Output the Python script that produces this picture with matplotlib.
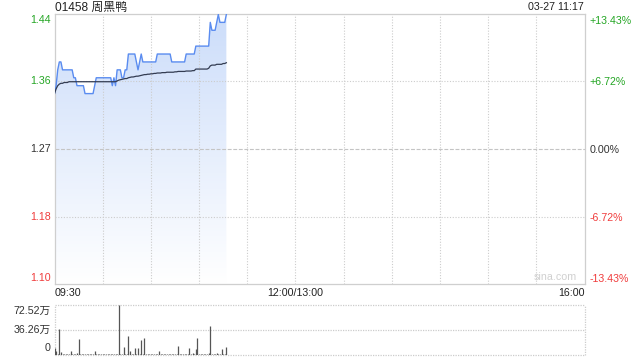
import numpy as np
import matplotlib
matplotlib.use("Agg")
import matplotlib.pyplot as plt
import matplotlib.transforms as mtransforms

plt.rcParams['font.family'] = ['Liberation Sans', 'Noto Sans CJK SC', 'DejaVu Sans']

# ---------------- data ----------------
title = "01458 周黑鸭"
stamp = "03-27 11:17"
prev_close = 1.27
pct_ticks = [13.43, 6.72, 0.0, -6.72, -13.43]
price_labels = ["1.44", "1.36", "1.27", "1.18", "1.10"]
pct_labels = ["+13.43%", "+6.72%", "0.00%", "-6.72%", "-13.43%"]
time_labels = ["09:30", "12:00/13:00", "16:00"]
time_label_pos = [0, 150, 330]          # trading minutes from open
total_minutes = 330
grid_minutes = [30, 60, 90, 120, 150, 180, 210, 240, 270, 300]

price = [
    1.34, 1.35, 1.37, 1.38, 1.38, 1.37, 1.37, 1.37, 1.37, 1.37,
    1.37, 1.37, 1.36, 1.36, 1.35, 1.35, 1.35, 1.35, 1.35, 1.34,
    1.34, 1.34, 1.34, 1.34, 1.34, 1.35, 1.36, 1.36, 1.36, 1.36,
    1.36, 1.36, 1.36, 1.36, 1.36, 1.36, 1.35, 1.36, 1.35, 1.37,
    1.37, 1.37, 1.36, 1.36, 1.37, 1.37, 1.39, 1.39, 1.39, 1.39,
    1.39, 1.38, 1.37, 1.38, 1.39, 1.38, 1.38, 1.38, 1.38, 1.38,
    1.38, 1.38, 1.38, 1.38, 1.39, 1.39, 1.39, 1.39, 1.39, 1.39,
    1.39, 1.39, 1.39, 1.38, 1.38, 1.38, 1.38, 1.38, 1.38, 1.38,
    1.38, 1.38, 1.39, 1.39, 1.39, 1.39, 1.39, 1.39, 1.40, 1.40,
    1.40, 1.40, 1.40, 1.40, 1.40, 1.40, 1.40, 1.43, 1.42, 1.42,
    1.42, 1.43, 1.44, 1.43, 1.43, 1.43, 1.43, 1.44,
]

avg_price = [
    1.340, 1.346, 1.350, 1.352, 1.353, 1.353, 1.354, 1.354, 1.354, 1.355,
    1.355, 1.355, 1.355, 1.355, 1.355, 1.355, 1.355, 1.355, 1.355, 1.355,
    1.355, 1.355, 1.355, 1.355, 1.355, 1.355, 1.355, 1.355, 1.355, 1.355,
    1.355, 1.355, 1.355, 1.355, 1.355, 1.355, 1.355, 1.355, 1.355, 1.356,
    1.357, 1.3575, 1.358, 1.3585, 1.359, 1.359, 1.360, 1.3605, 1.361, 1.361,
    1.3615, 1.362, 1.362, 1.3625, 1.363, 1.3635, 1.364, 1.364, 1.3645, 1.3645,
    1.365, 1.365, 1.3655, 1.3655, 1.366, 1.366, 1.366, 1.3665, 1.3665, 1.3665,
    1.367, 1.367, 1.367, 1.367, 1.367, 1.3675, 1.3675, 1.368, 1.368, 1.368,
    1.368, 1.368, 1.3685, 1.3685, 1.3685, 1.3685, 1.369, 1.369, 1.371, 1.371,
    1.371, 1.371, 1.371, 1.371, 1.371, 1.371, 1.372, 1.375, 1.376, 1.376,
    1.376, 1.377, 1.377, 1.377, 1.377, 1.378, 1.378, 1.379,
]

volume = [  # 万 shares per minute
    9.7, 6.0, 2.0, 37.0, 4.8, 1.0, 2.0, 1.5, 2.0, 1.0,
    5.8, 1.0, 2.0, 1.5, 2.5, 23.0, 1.0, 2.0, 1.5, 1.0,
    1.0, 1.5, 1.0, 2.0, 1.0, 6.0, 1.0, 1.5, 1.0, 1.0,
    1.5, 1.0, 1.0, 1.5, 1.0, 1.0, 1.0, 1.5, 1.0, 1.5,
    72.5, 1.5, 2.0, 12.0, 1.0, 1.5, 27.5, 5.5, 1.0, 1.0,
    10.5, 1.0, 10.0, 1.0, 21.8, 1.0, 25.0, 1.5, 1.0, 1.0,
    1.5, 1.0, 1.0, 1.5, 1.0, 6.0, 1.0, 1.5, 1.0, 1.0,
    1.0, 1.5, 1.0, 1.0, 1.5, 1.0, 1.0, 13.5, 1.0, 1.5,
    1.0, 1.0, 1.5, 1.0, 10.0, 1.0, 2.5, 1.0, 8.7, 25.0,
    1.0, 1.5, 1.0, 1.0, 1.0, 1.5, 3.5, 42.5, 2.0, 1.0,
    1.5, 3.5, 1.0, 1.5, 9.0, 2.0, 1.0, 12.0,
]
vol_ticks = [72.52, 36.26, 0.0]
vol_labels = ["72.52万", "36.26万", "0"]

# ---------------- style ----------------
GREEN = "#25a625"
RED = "#f03c3c"
DARK = "#333333"
GRID = "#cccccc"
LINE = "#5a8cf0"
AVG = "#333c52"

W, H = 640, 360
fig = plt.figure(figsize=(W / 100, H / 100), dpi=100)


def fx(px):
    return px / W


def fy(py):
    return 1 - py / H


ax = fig.add_axes([fx(54.5), fy(284), fx(584.5) - fx(54.5), fy(14) - fy(284)])
axv = fig.add_axes([fx(54.5), fy(355), fx(584.5) - fx(54.5), fy(305) - fy(355)])

minutes = np.arange(len(price))
ylo = prev_close * (1 + pct_ticks[-1] / 100)
yhi = prev_close * (1 + pct_ticks[0] / 100)

ax.set_xlim(0, total_minutes)
ax.set_ylim(ylo, yhi)
ax.set_xticks([])
ax.set_yticks([])
for s in ax.spines.values():
    s.set_color("#cfcfcf")
    s.set_linewidth(0.9)

# grid lines
for gm in grid_minutes:
    ax.axvline(gm, color=GRID, lw=0.8, ls=(0, (1, 1.5)), zorder=1)
for p in pct_ticks[1:-1]:
    yv = prev_close * (1 + p / 100)
    if p == 0:
        ax.axhline(yv, color="#c4c4c4", lw=0.8, ls=(0, (3.5, 1.5)), zorder=1)
    else:
        ax.axhline(yv, color=GRID, lw=0.8, ls=(0, (1, 1.5)), zorder=1)

# gradient fill under price line
poly = ax.fill_between(minutes, price, ylo, facecolor="none", edgecolor="none")
grad = np.zeros((256, 1, 4))
top = np.array([204, 221, 250]) / 255
bot = np.array([255, 255, 255]) / 255
t = np.linspace(0, 1, 256)[:, None]
grad[:, 0, :3] = top * (1 - t) + bot * t
grad[:, 0, 3] = 1.0
im = ax.imshow(grad, extent=[0, total_minutes, ylo, yhi], aspect="auto",
               origin="upper", zorder=0.5)
im.set_clip_path(poly.get_paths()[0], transform=ax.transData)

ax.plot(minutes, price, color=LINE, lw=1.0, zorder=3)
ax.plot(minutes, avg_price, color=AVG, lw=0.9, zorder=4)

# y labels (left price, right percent)
colors = [GREEN, GREEN, DARK, RED, RED]
offs = [-6, 0, 0, 0, 6]
for p, pl, ql, c, o in zip(pct_ticks, price_labels, pct_labels, colors, offs):
    yv = prev_close * (1 + p / 100)
    trl = mtransforms.offset_copy(ax.get_yaxis_transform(), fig=fig, x=-4, y=o, units="dots")
    ax.text(0, yv, pl, transform=trl, ha="right", va="center", color=c, fontsize=7.7)
    trr = mtransforms.offset_copy(ax.get_yaxis_transform(), fig=fig, x=5, y=o - 1, units="dots")
    ax.text(1, yv, ql, transform=trr, ha="left", va="center", color=c, fontsize=7.7)

# time labels
tx = mtransforms.offset_copy(ax.get_xaxis_transform(), fig=fig, x=0, y=-9, units="dots")
for lab, pos in zip(time_labels, time_label_pos):
    ha = "left" if pos == 0 else ("right" if pos == total_minutes else "center")
    ax.text(pos, 0, lab, transform=tx, ha=ha, va="center", color="#222222", fontsize=7.7)

ax.text(0.985, 0.008, "sina.com", transform=ax.transAxes, ha="right", va="bottom",
        color="#d0d0d0", fontsize=7.7)

# title texts
fig.text(fx(55), fy(7.5), title, ha="left", va="center", color="#222222", fontsize=8.6)
fig.text(fx(584), fy(7.5), stamp, ha="right", va="center", color="#222222", fontsize=7.7)

# ---------------- volume ----------------
axv.set_xlim(0, total_minutes)
axv.set_ylim(0, vol_ticks[0])
axv.set_xticks([])
axv.set_yticks([])
for s in axv.spines.values():
    s.set_visible(False)
for v in vol_ticks:
    axv.axhline(v, color=GRID, lw=0.9, ls=(0, (1, 1)), zorder=1, clip_on=False)
for xv in (0, total_minutes):
    axv.axvline(xv, color=GRID, lw=0.9, ls=(0, (1, 1)), zorder=1, clip_on=False)
axv.vlines(minutes, 0, volume, color="#555555", lw=0.9, zorder=3)

voffs = [-6, 0, 7]
for v, lab, o in zip(vol_ticks, vol_labels, voffs):
    tr = mtransforms.offset_copy(axv.get_yaxis_transform(), fig=fig, x=-4, y=o, units="dots")
    axv.text(0, v, lab, transform=tr, ha="right", va="center", color=DARK, fontsize=7.7)

fig.savefig("out.png", dpi=100)
